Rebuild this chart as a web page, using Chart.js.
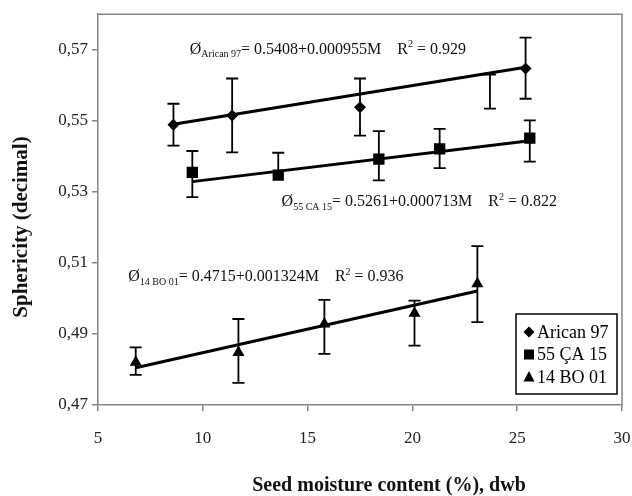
<!DOCTYPE html>
<html>
<head>
<meta charset="utf-8">
<script src="https://cdn.jsdelivr.net/npm/chart.js@4.4.1/dist/chart.umd.min.js"></script>
<style>
  html, body { margin: 0; padding: 0; background: #fff; }
</style>
</head>
<body>
<canvas id="grafica" width="632" height="496"></canvas>
<script>
// ---- datos ----
const seriesNames = ['Arican 97', '55 ÇA 15', '14 BO 01'];
const eqNames = ['Arican 97', '55 CA 15', '14 BO 01'];

const moistArican = [8.6, 11.4, 17.5, 23.7, 25.4];
const sphArican   = [0.5489, 0.5515, 0.5538, 0.5582, 0.5647];
const upArican    = [0.0059, 0.0104, 0.0081, 0.0048, 0.0087];
const downArican  = [0.0059, 0.0104, 0.0080, 0.0048, 0.0085];

const moistCA = [9.5, 13.6, 18.4, 21.3, 25.6];
const sphCA   = [0.5355, 0.5347, 0.5392, 0.5421, 0.5451];
const upCA    = [0.0060, 0.0063, 0.0079, 0.0056, 0.0050];
const downCA  = [0.0070, 0.0006, 0.0060, 0.0054, 0.0066];

const moistBO = [6.8, 11.7, 15.8, 20.1, 23.1];
const sphBO   = [0.4820, 0.4848, 0.4928, 0.4958, 0.5041];
const upBO    = [0.0042, 0.0094, 0.0068, 0.0036, 0.0106];
const downBO  = [0.0035, 0.0086, 0.0084, 0.0091, 0.0108];

// ecuaciones de regresion (Ø = a + bM)
const intercepts = [0.5408, 0.5261, 0.4715];
const slopes     = [0.000955, 0.000713, 0.001324];
const r2Values   = ['0.929', '0.822', '0.936'];

const xTicks = [5, 10, 15, 20, 25, 30];
const yTicks = [0.47, 0.49, 0.51, 0.53, 0.55, 0.57];

const xTitle = 'Seed moisture content (%), dwb';
const yTitle = 'Sphericity (decimal)';

// posicion de cada ecuacion (en unidades de datos)
const EQ_POS = [
    { x: 9.38, y: 0.5700 },
    { x: 13.76, y: 0.5271 },
    { x: 6.44, y: 0.5060 }
];

const SERIF = "'Liberation Serif', 'Times New Roman', serif";
const AXIS_GRAY = '#858585';

const pointSets = [
    { x: moistArican, y: sphArican, up: upArican, down: downArican, style: 'rectRot', r: 6 },
    { x: moistCA, y: sphCA, up: upCA, down: downCA, style: 'rect', r: 8 },
    { x: moistBO, y: sphBO, up: upBO, down: downBO, style: 'triangle', r: 7 }
];

const datasets = [];
pointSets.forEach((s, i) => {
    datasets.push({
        label: seriesNames[i],
        data: s.x.map((v, k) => ({ x: v, y: s.y[k] })),
        errUp: s.up,
        errDown: s.down,
        showLine: false,
        pointStyle: s.style,
        pointRadius: s.x.map((v, k) => (i === 0 && k === 3) ? 0 : s.r),
        pointBackgroundColor: '#000',
        pointBorderColor: '#000',
        pointBorderWidth: 0,
        order: 1
    });
});
pointSets.forEach((s, i) => {
    const x0 = Math.min(...s.x), x1 = Math.max(...s.x);
    datasets.push({
        label: 'fit ' + seriesNames[i],
        data: [x0, x1].map(v => ({ x: v, y: intercepts[i] + slopes[i] * v })),
        showLine: true,
        borderColor: '#000',
        borderWidth: 3,
        pointRadius: 0,
        order: 2
    });
});

// ---- barras de error ----
const errorBars = {
    id: 'errorBars',
    afterDatasetsDraw(chart) {
        const ctx = chart.ctx;
        const ys = chart.scales.y;
        ctx.save();
        ctx.strokeStyle = '#000';
        ctx.lineWidth = 1.8;
        chart.data.datasets.forEach((ds, i) => {
            if (!ds.errUp) return;
            const meta = chart.getDatasetMeta(i);
            meta.data.forEach((pt, k) => {
                const v = ds.data[k].y;
                const yTop = ys.getPixelForValue(v + ds.errUp[k]);
                const yBot = ys.getPixelForValue(v - ds.errDown[k]);
                ctx.beginPath();
                ctx.moveTo(pt.x, yTop); ctx.lineTo(pt.x, yBot);
                ctx.moveTo(pt.x - 6, yTop); ctx.lineTo(pt.x + 6, yTop);
                if (ds.errDown[k] > 0.001) { ctx.moveTo(pt.x - 6, yBot); ctx.lineTo(pt.x + 6, yBot); }
                ctx.stroke();
            });
        });
        ctx.restore();
    }
};

// ---- ecuaciones ----
const equations = {
    id: 'equations',
    afterDraw(chart) {
        const ctx = chart.ctx;
        ctx.save();
        ctx.fillStyle = '#111';
        ctx.textBaseline = 'middle';
        ctx.textAlign = 'left';
        EQ_POS.forEach((p, i) => {
            let x = chart.scales.x.getPixelForValue(p.x);
            const y = chart.scales.y.getPixelForValue(p.y);
            ctx.font = '16px ' + SERIF;
            ctx.fillText('Ø', x, y);
            x += ctx.measureText('Ø').width;
            ctx.font = '10px ' + SERIF;
            ctx.fillText(eqNames[i], x, y + 5);
            x += ctx.measureText(eqNames[i]).width;
            ctx.font = '16px ' + SERIF;
            const main = '= ' + intercepts[i] + '+' + slopes[i].toFixed(6) + 'M';
            ctx.fillText(main, x, y);
            x += ctx.measureText(main).width + 16;
            ctx.fillText('R', x, y);
            x += ctx.measureText('R').width;
            ctx.font = '10px ' + SERIF;
            ctx.fillText('2', x, y - 5);
            x += ctx.measureText('2').width;
            ctx.font = '16px ' + SERIF;
            ctx.fillText(' = ' + r2Values[i], x, y);
        });
        ctx.restore();
    }
};

// ---- marco, titulos de ejes y leyenda ----
function marcador(ctx, style, x, y, r) {
    ctx.beginPath();
    if (style === 'rectRot') {
        ctx.moveTo(x - r, y); ctx.lineTo(x, y - r); ctx.lineTo(x + r, y); ctx.lineTo(x, y + r);
    } else if (style === 'rect') {
        ctx.rect(x - r, y - r, 2 * r, 2 * r);
    } else {
        ctx.moveTo(x, y - r * 1.1); ctx.lineTo(x + r, y + r * 0.8); ctx.lineTo(x - r, y + r * 0.8);
    }
    ctx.closePath();
    ctx.fill();
}

const marcoLeyenda = {
    id: 'marcoLeyenda',
    afterDraw(chart) {
        const ctx = chart.ctx;
        const a = chart.chartArea;
        ctx.save();
        ctx.strokeStyle = AXIS_GRAY;
        ctx.lineWidth = 1.5;
        ctx.beginPath();
        ctx.moveTo(a.left, a.top); ctx.lineTo(a.right, a.top); ctx.lineTo(a.right, a.bottom);
        ctx.stroke();

        // titulos de ejes
        ctx.fillStyle = '#111';
        ctx.textAlign = 'center';
        ctx.textBaseline = 'middle';
        ctx.font = 'bold 20px ' + SERIF;
        ctx.fillText(xTitle, 389, 486);
        ctx.save();
        ctx.translate(22, 227);
        ctx.rotate(-Math.PI / 2);
        ctx.font = 'bold 21px ' + SERIF;
        ctx.fillText(yTitle, 0, 0);
        ctx.restore();

        // leyenda
        const bx = 516, by = 314, bw = 101, bh = 80;
        ctx.fillStyle = '#fff';
        ctx.fillRect(bx, by, bw, bh);
        ctx.strokeStyle = '#000';
        ctx.lineWidth = 1.5;
        ctx.strokeRect(bx, by, bw, bh);
        ctx.fillStyle = '#000';
        ctx.font = '18px ' + SERIF;
        ctx.textBaseline = 'middle';
        ctx.textAlign = 'left';
        const sizes = [5.5, 5, 5.5];
        pointSets.forEach((s, i) => {
            const yy = by + 18 + i * 22.5;
            marcador(ctx, s.style, bx + 13, yy, sizes[i]);
            ctx.fillText(seriesNames[i], bx + 21, yy + 1);
        });
        ctx.restore();
    }
};

new Chart(document.getElementById('grafica'), {
    type: 'scatter',
    data: { datasets: datasets },
    options: {
        responsive: false,
        animation: false,
        layout: { padding: { top: 13, right: 10, left: 0, bottom: 0 } },
        plugins: {
            legend: { display: false },
            tooltip: { enabled: false }
        },
        scales: {
            x: {
                type: 'linear',
                min: 5,
                max: 30,
                afterBuildTicks: scale => { scale.ticks = xTicks.map(v => ({ value: v })); },
                afterFit: scale => {
                    scale.height = 91;
                    scale.paddingRight = 0;
                    scale.paddingLeft = 0;
                },
                ticks: { color: '#222', font: { family: SERIF, size: 17 }, padding: 17 },
                grid: { display: true, drawOnChartArea: false, tickLength: 6, color: AXIS_GRAY, lineWidth: 1.5 },
                border: { color: AXIS_GRAY, width: 1.5 }
            },
            y: {
                type: 'linear',
                min: 0.47,
                max: 0.58,
                afterBuildTicks: scale => { scale.ticks = yTicks.map(v => ({ value: v })); },
                afterFit: scale => { scale.width = 98; },
                ticks: {
                    color: '#222',
                    font: { family: SERIF, size: 17 },
                    padding: 4,
                    callback: v => v.toFixed(2).replace('.', ',')
                },
                grid: { display: true, drawOnChartArea: false, tickLength: 6, color: AXIS_GRAY, lineWidth: 1.5 },
                border: { color: AXIS_GRAY, width: 1.5 }
            }
        }
    },
    plugins: [errorBars, equations, marcoLeyenda]
});
</script>
</body>
</html>
